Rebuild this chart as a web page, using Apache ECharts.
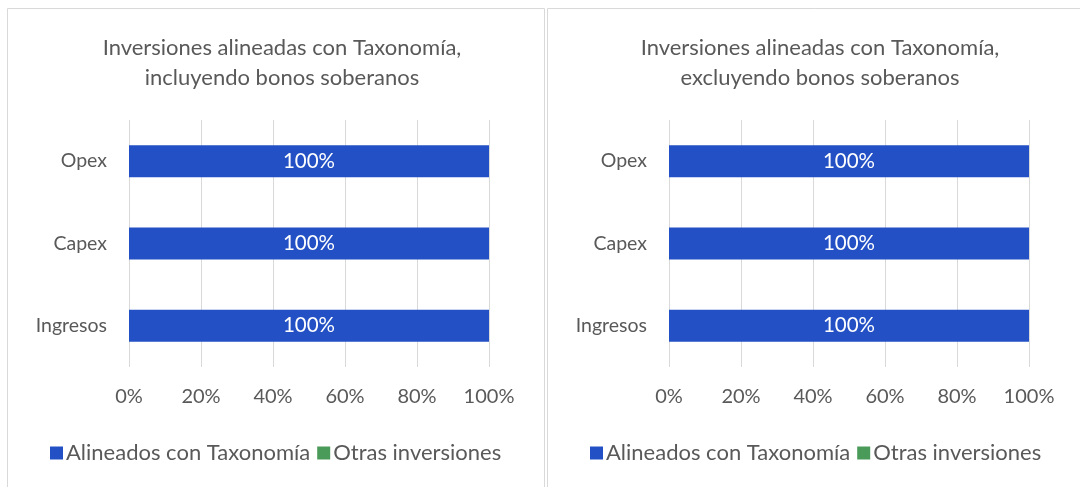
<!DOCTYPE html>
<html>
<head>
<meta charset="utf-8">
<script src="https://cdn.jsdelivr.net/npm/echarts@6/dist/echarts.min.js"></script>
<style>
html, body { margin: 0; padding: 0; background: #fff; }
#main { width: 1080px; height: 487px; }
</style>
</head>
<body>
<div id="main"></div>
<script>
var categories = ['Ingresos', 'Capex', 'Opex'];
var titles = ['Inversiones alineadas con Taxonomía,\nincluyendo bonos soberanos',
              'Inversiones alineadas con Taxonomía,\nexcluyendo bonos soberanos'];
var seriesNames = ['Alineados con Taxonomía', 'Otras inversiones'];
var alineadosIncl = [100, 100, 100];
var otrasIncl = [0, 0, 0];
var alineadosExcl = [100, 100, 100];
var otrasExcl = [0, 0, 0];

var txt = '#595959';
var font = 'Lato';
var blue = '#2350C4';
var green = '#4A9A5A';

var myChart = echarts.init(document.getElementById('main'));

function xAxisFor(i) {
    return {
        gridIndex: i,
        type: 'value',
        min: 0,
        max: 100,
        interval: 20,
        axisLine: { show: false },
        axisTick: { show: false },
        splitLine: { lineStyle: { color: '#d9d9d9', width: 1 } },
        axisLabel: { formatter: '{value}%', color: txt, fontSize: 20, fontFamily: font, margin: 20 }
    };
}
function yAxisFor(i) {
    return {
        gridIndex: i,
        type: 'category',
        data: categories,
        axisLine: { show: false },
        axisTick: { show: false },
        axisLabel: { color: txt, fontSize: 19.5, fontFamily: font, margin: 22 }
    };
}
function barSeries(name, data, i, color, showLabel) {
    return {
        name: name,
        type: 'bar',
        stack: 's' + i,
        xAxisIndex: i,
        yAxisIndex: i,
        barWidth: 32,
        data: data,
        itemStyle: { color: color },
        label: {
            show: showLabel,
            position: 'inside',
            color: '#fff',
            fontSize: 20.5,
            fontFamily: font,
            formatter: '{c}%'
        }
    };
}

myChart.setOption({
    animation: false,
    textStyle: { fontFamily: font },
    graphic: [
        { type: 'rect', shape: { x: 7.5, y: 8.5, width: 537, height: 500 }, style: { fill: 'none', stroke: '#d9d9d9', lineWidth: 1 } },
        { type: 'rect', shape: { x: 547.5, y: 8.5, width: 560, height: 500 }, style: { fill: 'none', stroke: '#d9d9d9', lineWidth: 1 } }
    ],
    title: [
        { text: titles[0], left: 277, top: 28, textAlign: 'center',
          textStyle: { color: txt, fontSize: 22, fontWeight: 'normal', fontFamily: font, lineHeight: 30 } },
        { text: titles[1], left: 815, top: 28, textAlign: 'center',
          textStyle: { color: txt, fontSize: 22, fontWeight: 'normal', fontFamily: font, lineHeight: 30 } }
    ],
    legend: [
        { data: seriesNames, left: 45, top: 437, itemWidth: 13, itemHeight: 13, itemGap: 7, icon: 'rect',
          textStyle: { color: txt, fontSize: 22, fontFamily: font, padding: [0, 0, 0, -2] } },
        { data: seriesNames, left: 585, top: 437, itemWidth: 13, itemHeight: 13, itemGap: 7, icon: 'rect',
          textStyle: { color: txt, fontSize: 22, fontFamily: font, padding: [0, 0, 0, -2] } }
    ],
    grid: [
        { left: 129, width: 360, top: 120, height: 247 },
        { left: 669, width: 360, top: 120, height: 247 }
    ],
    xAxis: [xAxisFor(0), xAxisFor(1)],
    yAxis: [yAxisFor(0), yAxisFor(1)],
    series: [
        barSeries(seriesNames[0], alineadosIncl, 0, blue, true),
        barSeries(seriesNames[1], otrasIncl, 0, green, false),
        barSeries(seriesNames[0], alineadosExcl, 1, blue, true),
        barSeries(seriesNames[1], otrasExcl, 1, green, false)
    ]
});
</script>
</body>
</html>
